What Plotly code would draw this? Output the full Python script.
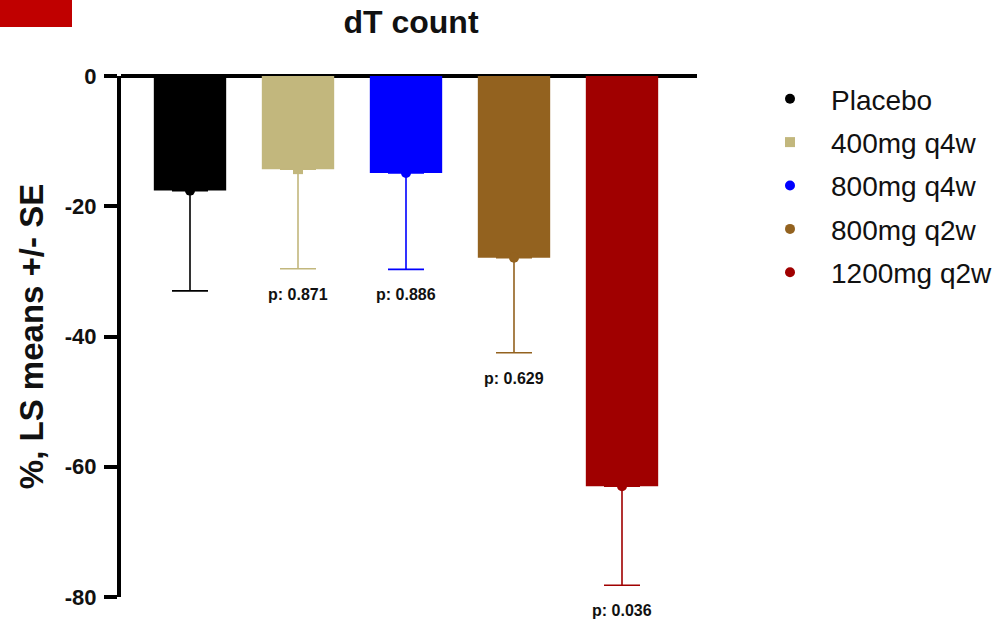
import plotly.graph_objects as go

groups = ["Placebo", "400mg q4w", "800mg q4w", "800mg q2w", "1200mg q2w"]
means = [-17.6, -14.3, -14.9, -27.9, -63.0]
se = [15.4, 15.3, 14.8, 14.6, 15.2]
pvals = [None, "p: 0.871", "p: 0.886", "p: 0.629", "p: 0.036"]
colors = ["#000000", "#C2B77D", "#0000FF", "#93621F", "#A00000"]
symbols = ["circle", "square", "circle", "circle", "circle"]
ytick_vals = [0, -20, -40, -60, -80]

FONT = "Arial, Liberation Sans, sans-serif"

fig = go.Figure()
xs = list(range(len(groups)))

for i, g in enumerate(groups):
    fig.add_trace(go.Bar(
        x=[xs[i]], y=[means[i]], width=0.67,
        marker=dict(color=colors[i], line=dict(width=0)),
        showlegend=False, hoverinfo="skip",
    ))

for i, g in enumerate(groups):
    fig.add_trace(go.Scatter(
        x=[xs[i]], y=[means[i]], mode="markers", name=g,
        legendgroup=g,
        marker=dict(color=colors[i], size=10, symbol=symbols[i]),
        error_y=dict(type="data", symmetric=False, array=[0], arrayminus=[se[i]],
                     color=colors[i], thickness=1.6, width=18),
    ))

for i, p in enumerate(pvals):
    if p:
        fig.add_annotation(
            x=xs[i], y=means[i] - se[i], text="<b>" + p + "</b>",
            showarrow=False, yanchor="top", yshift=-15,
            font=dict(family=FONT, size=16, color="#111111"),
        )

L, R, T, B = 121, 308, 76, 25
PW, PH = 1005 - L - R, 622 - T - B

# red corner block
fig.add_shape(type="rect", xref="paper", yref="paper",
              x0=(0 - L) / PW, x1=(72 - L) / PW,
              y0=(622 - B - 27) / PH, y1=(622 - B + 5) / PH,
              fillcolor="#C00000", line=dict(width=0), layer="above")

fig.update_layout(
    width=1005, height=622,
    margin=dict(l=L, r=R, t=T, b=B, autoexpand=False),
    paper_bgcolor="white", plot_bgcolor="white",
    barmode="overlay",
    title=dict(text="<b>dT count</b>", x=411 / 1005, xanchor="center",
               y=1 - 22 / 622, yanchor="middle",
               font=dict(family=FONT, size=32, color="#111111")),
    xaxis=dict(range=[(L - 190) / 108, (697 - 190) / 108], visible=False),
    yaxis=dict(range=[-80, 0], tickvals=ytick_vals,
               ticktext=["<b>%d</b>" % v for v in ytick_vals],
               showline=True, linewidth=4, linecolor="black",
               ticks="outside", ticklen=13, tickwidth=4, tickcolor="black",
               ticklabelstandoff=3,
               showgrid=False, zeroline=True, zerolinewidth=4, zerolinecolor="black",
               tickfont=dict(family=FONT, size=22, color="#111111"),
               title=dict(text="<b>%, LS means +/- SE</b>", standoff=12,
                          font=dict(family=FONT, size=33, color="#111111"))),
    legend=dict(x=(749 - L) / PW, y=1 - (74 - T) / PH, xanchor="left", yanchor="top",
                font=dict(family=FONT, size=28, color="#111111"),
                itemwidth=72,
                tracegroupgap=4, bgcolor="rgba(0,0,0,0)"),
)

fig.write_html("out.html", config={"displayModeBar": False},
               post_script="document.body.style.margin='0';")
